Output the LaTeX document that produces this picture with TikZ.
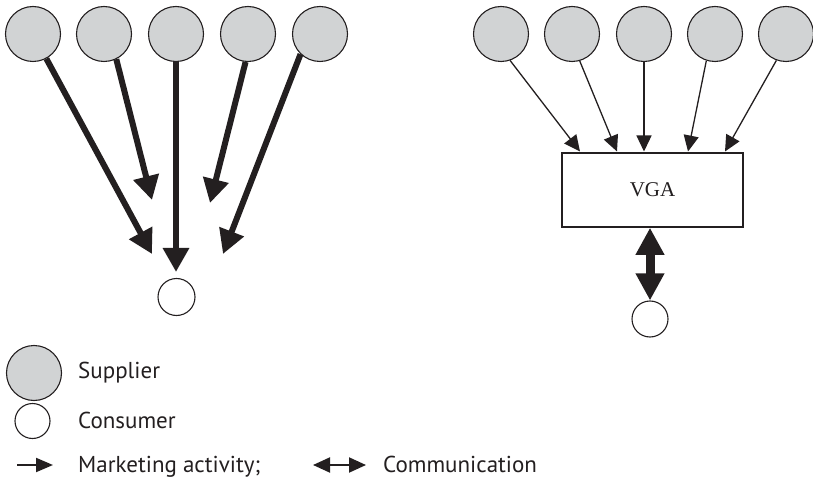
\documentclass[tikz,border=0pt]{standalone}
\usepackage{fontspec}
\setmainfont{PT Sans}
\newfontfamily\vgafont{Liberation Serif}
\usetikzlibrary{arrows.meta}
\definecolor{supgray}{HTML}{D1D3D4}
\definecolor{ink}{HTML}{231F20}
\begin{document}
\begin{tikzpicture}[x=1pt,y=-1pt,
  supplier/.style={circle,draw=ink,line width=1.1pt,fill=supgray,minimum size=55pt,inner sep=0pt},
  lgsupplier/.style={supplier,minimum size=55pt},
  consumer/.style={circle,draw=ink,line width=1.1pt,fill=white,minimum size=37pt,inner sep=0pt},
  lgconsumer/.style={consumer,minimum size=35pt},
  thickarrow/.style={draw=ink,line width=6pt,-{Triangle[length=24pt,width=25pt]}},
  thinarrow/.style={draw=ink,line width=1.3pt,-{Triangle[length=16pt,width=15pt]}},
  commarrow/.style={draw=ink,line width=9pt,{Triangle[length=27pt,width=27pt]}-{Triangle[length=27pt,width=27pt]}},
  lgarrow/.style={draw=ink,line width=2pt,-{Triangle[length=17pt,width=14pt]}},
  lgcomm/.style={draw=ink,line width=2pt,{Triangle[length=17pt,width=15pt]}-{Triangle[length=17pt,width=15pt]}},
  legtext/.style={anchor=base west,inner sep=0pt,text=ink,font=\fontsize{23}{26}\selectfont},
  box/.style={draw=ink,line width=1.5pt,fill=white,minimum width=181pt,minimum height=74pt,inner sep=0pt,font=\vgafont\fontsize{21}{24}\selectfont,text=ink}
]
\useasboundingbox (0,0) rectangle (813,478);

% ---------- left: direct marketing ----------
\node[supplier] (s1) at (33,34) {};
\node[supplier] (s2) at (104,34) {};
\node[supplier] (s3) at (176,34) {};
\node[supplier] (s4) at (248,34) {};
\node[supplier] (s5) at (320,34) {};
\node[consumer] (c1) at (176.5,297) {};

\coordinate (t1) at (152,254);
\coordinate (t2) at (152,200);
\coordinate (t3) at (176,272);
\coordinate (t4) at (210,203);
\coordinate (t5) at (223,254);

\draw[thickarrow] (s1) -- (t1);
\draw[thickarrow] (s2.-64) -- (t2);
\draw[thickarrow] (s3) -- (t3);
\draw[thickarrow] (s4.-95) -- (t4);
\draw[thickarrow] (s5.-134) -- (t5);

% ---------- right: via VGA ----------
\node[supplier] (r1) at (501,34) {};
\node[supplier] (r2) at (572,34) {};
\node[supplier] (r3) at (644,34) {};
\node[supplier] (r4) at (715,34) {};
\node[supplier] (r5) at (786,34) {};

\node[box] (vga) at (652.5,190) {VGA};
\node[consumer,minimum size=36pt] (c2) at (650,319) {};

\coordinate (u1) at (580,151.5);
\coordinate (u2) at (617,151.5);
\coordinate (u3) at (644,151.5);
\coordinate (u4) at (688,151.5);
\coordinate (u5) at (725,151.5);

\draw[thinarrow] (r1.-71) -- (u1);
\draw[thinarrow] (r2.-74) -- (u2);
\draw[thinarrow] (r3) -- (u3);
\draw[thinarrow] (r4.-108) -- (u4);
\draw[thinarrow] (r5.-110) -- (u5);

\draw[commarrow] (vga.south -| c2.north) -- (c2.north);

% ---------- legend ----------
\node[lgsupplier] (lg1) at (34,373) {};
\node[legtext] (lt1) at (78,378) {Supplier};
\node[lgconsumer] (lg2) at (32.5,421) {};
\node[legtext] (lt2) at (78,428) {Consumer};
\coordinate (la1) at (17,465);
\coordinate (la2) at (53,465);
\draw[lgarrow] (la1) -- (la2);
\node[legtext] (lt3) at (78,472) {Marketing activity;};
\coordinate (lc1) at (313,465);
\coordinate (lc2) at (366,465);
\draw[lgcomm] (lc1) -- (lc2);
\node[legtext] (lt4) at (383,472) {Communication};
\end{tikzpicture}
\end{document}
